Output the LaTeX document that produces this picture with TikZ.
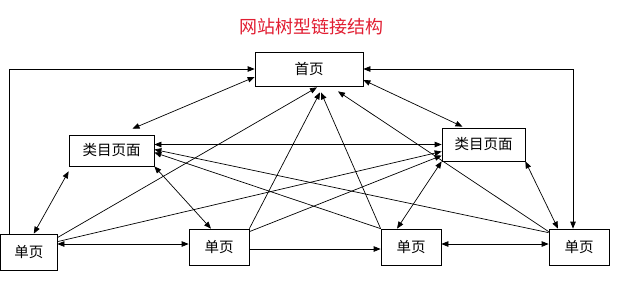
\documentclass[tikz,border=0pt]{standalone}
\usepackage{fontspec}
\setmainfont{Noto Sans CJK SC}
\usetikzlibrary{arrows.meta}
\definecolor{TRed}{RGB}{225,30,50}

\begin{document}
\begin{tikzpicture}[x=1pt, y=-1pt, line width=0.7pt,
    >={Triangle[length=7pt, width=5.5pt]},
    box/.style={draw, fill=white, inner sep=0pt, font=\fontsize{14.5}{16}\selectfont},
    page/.style={box, minimum width=60pt, minimum height=36pt}]

    \useasboundingbox (0,0) rectangle (626,285);

    \node[TRed, font=\fontsize{18}{20}\selectfont] (title) at (311,27) {网站树型链接结构};

    % Pages
    \node[box, minimum width=108pt, minimum height=34pt] (home) at (309,69) {首页};
    \node[box, minimum width=85pt, minimum height=31pt] (catL) at (111.5,150.5) {类目页面};
    \node[box, minimum width=83pt, minimum height=33pt] (catR) at (483.5,144.5) {类目页面};
    \node[page, minimum width=56.5pt] (page1) at (28.75,252) {单页};
    \node[page] (page2) at (219,247) {单页};
    \node[page] (page3) at (411,247) {单页};
    \node[page] (page4) at (579,247) {单页};

    % Frame
    \draw[->] ([xshift=-19pt]page1.north) |- (home.west);
    \draw[<->] (home.east) -| ([xshift=-6pt]page4.north);

    % To home
    \draw[<->] ([yshift=-8pt]home.west) -- ([xshift=21pt, yshift=6pt]catL.north);
    \draw[<->] ([yshift=-11pt]home.east) -- ([xshift=-21pt, yshift=1pt]catR.north);
    \draw[->] ([yshift=-4pt]page1.north east) -- ([xshift=8pt, yshift=-1pt]home.south);
    \draw[->] (page2.north east) -- ([xshift=11pt, yshift=-6pt]home.south);
    \draw[->] (page3.north west) -- ([xshift=12pt, yshift=-6pt]home.south);
    \draw[->] ([yshift=-3pt]page4.north west) -- ([xshift=29pt, yshift=-5pt]home.south);

    % Categories
    \draw[<->] ([yshift=6pt]catL.east) -- (catR.west);
    \draw[<-] ([yshift=1pt]catL.east) -- ([yshift=-4pt]page4.north west);
    \draw[<-] ([yshift=-2pt]catL.east) -- (page3.north west);
    \draw[<->] (catL.south east) -- ([xshift=-8pt]page2.north);
    \draw[<->] ([yshift=-5pt]catL.south west) -- ([xshift=5pt]page1.north);
    \draw[<-] ([yshift=-7pt]catR.west) -- ([yshift=-8pt]page1.north east);
    \draw[<-] ([yshift=-11pt]catR.west) -- ([yshift=-3pt]page2.north east);
    \draw[<->] (catR.south west) -- ([xshift=-14pt]page3.north);
    \draw[<->] (catR.south east) -- ([xshift=-21pt]page4.north);

    % Singles
    \draw[<->] ([yshift=8pt]page1.east) -- ([yshift=3pt]page2.west);
    \draw[->] ([yshift=-2pt]page2.east) -- ([yshift=-2pt]page3.west);
    \draw[<->] ([yshift=3pt]page3.east) -- ([yshift=3pt]page4.west);

\end{tikzpicture}
\end{document}
